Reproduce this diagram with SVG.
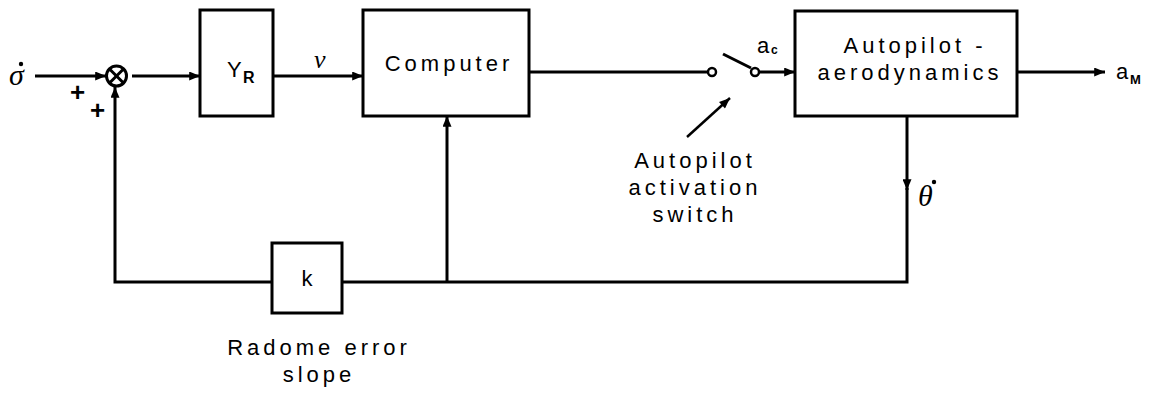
<svg xmlns="http://www.w3.org/2000/svg" width="1156" height="393" viewBox="0 0 1156 393">
<defs>
<style>
.ln{stroke:#000;stroke-width:3;fill:none}
.bx{stroke:#000;stroke-width:3;fill:#fff}
.t{font-family:"Liberation Sans",Arial,sans-serif;font-size:22px;fill:#000;letter-spacing:4px}
.ts{font-family:"Liberation Sans",Arial,sans-serif;font-size:14px;fill:#000;font-weight:bold}
.ti{font-family:"Liberation Serif","Times New Roman",serif;font-style:italic;font-size:26px;fill:#000}
.pl{font-family:"Liberation Sans",Arial,sans-serif;font-size:26px;font-weight:bold;fill:#000}
</style>
<marker id="ah" viewBox="0 0 12 10" refX="12" refY="5" markerWidth="12" markerHeight="9" markerUnits="userSpaceOnUse" orient="auto">
<path d="M0,0 L12,5 L0,10 z" fill="#000"/>
</marker>
</defs>
<rect width="1156" height="393" fill="#fff"/>
<g id="connectors">
<line class="ln" x1="35" y1="76" x2="106" y2="76" marker-end="url(#ah)"/>
<line class="ln" x1="132" y1="76" x2="200" y2="76" marker-end="url(#ah)"/>
<line class="ln" x1="273" y1="76" x2="363" y2="76" marker-end="url(#ah)"/>
<line class="ln" x1="529" y1="72" x2="708" y2="72"/>
<line class="ln" x1="759" y1="72" x2="795" y2="72" marker-end="url(#ah)"/>
<line class="ln" x1="1017" y1="72" x2="1105" y2="72" marker-end="url(#ah)"/>
<line class="ln" x1="907" y1="116" x2="907" y2="190" marker-end="url(#ah)"/>
<polyline class="ln" points="907,188 907,282 342,282"/>
<polyline class="ln" points="272,282 115,282 115,87" marker-end="url(#ah)"/>
<line class="ln" x1="447" y1="282" x2="447" y2="116" marker-end="url(#ah)"/>
<line stroke="#000" stroke-width="2.5" x1="687" y1="137" x2="730" y2="98" marker-end="url(#ah)"/>
</g>
<g id="input">
<text class="ti" x="9" y="85" style="font-size:30px">σ</text>
<circle cx="21" cy="64" r="2.2" fill="#000"/>
<text class="pl" x="70" y="101">+</text>
<text class="pl" x="90" y="119">+</text>
</g>
<g id="sum">
<circle cx="116.5" cy="76" r="10" fill="#fff" stroke="#000" stroke-width="3"/>
<line class="ln" x1="109.5" y1="69" x2="123.5" y2="83" stroke-width="2"/>
<line class="ln" x1="123.5" y1="69" x2="109.5" y2="83" stroke-width="2"/>
</g>
<g id="yr">
<rect class="bx" x="200" y="10" width="73" height="106"/>
<text class="t" x="227" y="77" style="letter-spacing:0">Y</text>
<text class="ts" x="243" y="83" style="font-size:16px">R</text>
</g>
<g id="nu">
<text class="ti" x="314" y="68">ν</text>
</g>
<g id="computer">
<rect class="bx" x="363" y="10" width="166" height="106"/>
<text class="t" x="449" y="71" text-anchor="middle">Computer</text>
</g>
<g id="switch">
<circle cx="712" cy="72" r="4" fill="#fff" stroke="#000" stroke-width="2.5"/>
<circle cx="755" cy="72" r="4" fill="#fff" stroke="#000" stroke-width="2.5"/>
<line class="ln" x1="723" y1="54" x2="751" y2="68" stroke-width="2.5"/>
<text class="t" x="757" y="53" style="letter-spacing:0">a</text>
<text class="ts" x="771" y="54" style="font-size:12px">c</text>
<text class="t" x="695" y="168" text-anchor="middle">Autopilot</text>
<text class="t" x="695" y="195" text-anchor="middle">activation</text>
<text class="t" x="695" y="222" text-anchor="middle">switch</text>
</g>
<g id="autopilot">
<rect class="bx" x="795" y="11" width="222" height="105"/>
<text class="t" x="915" y="53" text-anchor="middle">Autopilot -</text>
<text class="t" x="910" y="80" text-anchor="middle">aerodynamics</text>
</g>
<g id="output">
<text class="t" x="1116" y="79" style="letter-spacing:0">a</text>
<text class="ts" x="1130" y="84" style="font-size:13px">M</text>
</g>
<g id="theta">
<text class="ti" x="918" y="206" style="font-size:30px">θ</text>
<circle cx="934" cy="182" r="2.2" fill="#000"/>
</g>
<g id="k">
<rect class="bx" x="272" y="243" width="70" height="70"/>
<text class="t" x="307" y="286" text-anchor="middle" style="letter-spacing:0">k</text>
<text class="t" x="319" y="355" text-anchor="middle">Radome error</text>
<text class="t" x="319" y="382" text-anchor="middle">slope</text>
</g>
</svg>
